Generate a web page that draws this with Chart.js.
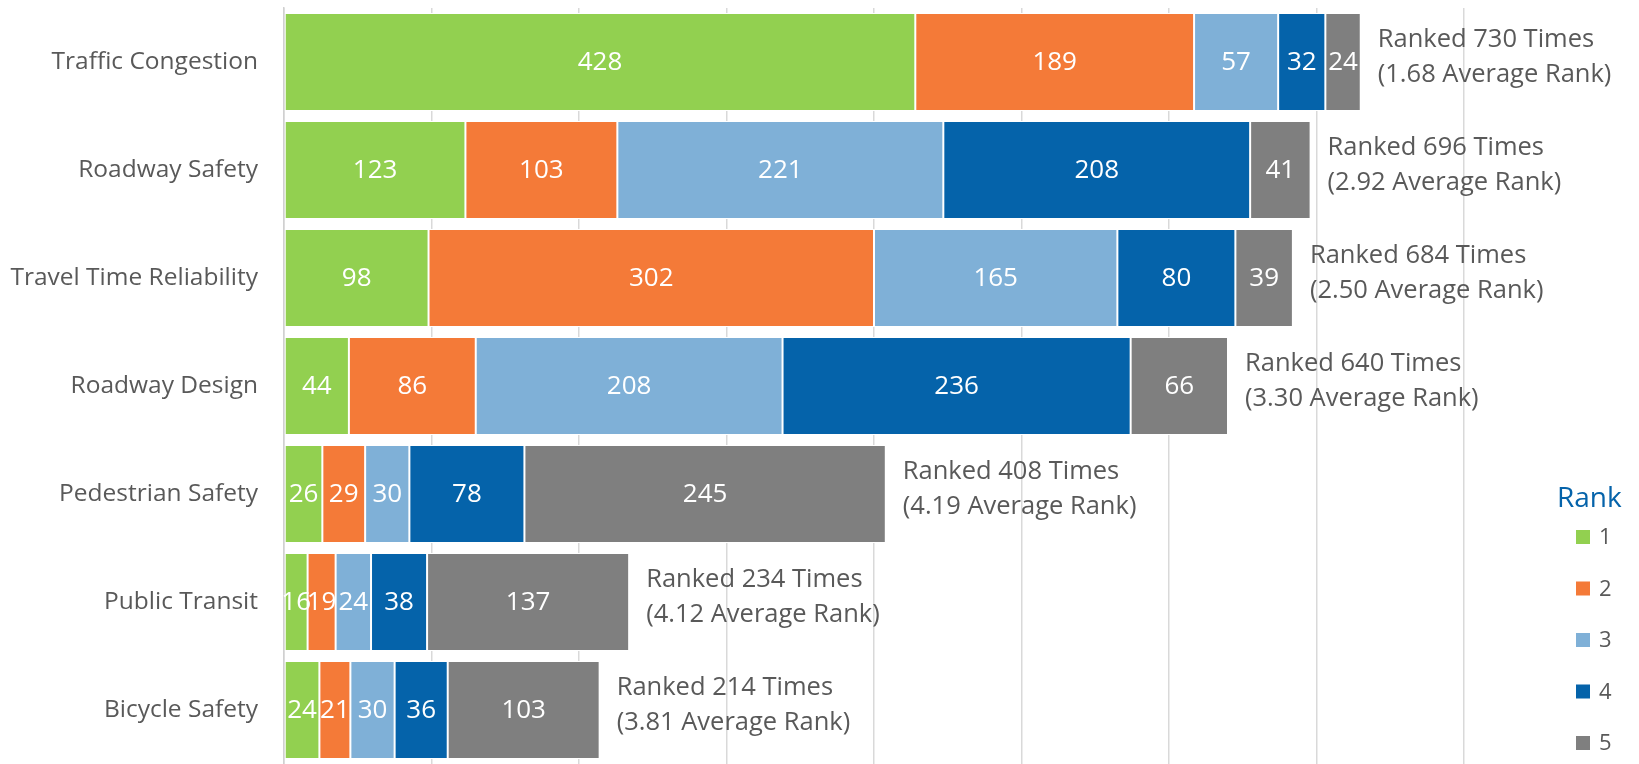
<!DOCTYPE html>
<html>
<head>
<meta charset="utf-8">
<script src="https://cdn.jsdelivr.net/npm/chart.js@4"></script>
<style>
  html, body { margin: 0; padding: 0; background: #fff; }
  #wrap { width: 1639px; height: 764px; }
</style>
</head>
<body>
<div id="wrap"><canvas id="rankChart"></canvas></div>
<script>
const categories = [
  "Traffic Congestion",
  "Roadway Safety",
  "Travel Time Reliability",
  "Roadway Design",
  "Pedestrian Safety",
  "Public Transit",
  "Bicycle Safety",
];
const rankLabels = ["1", "2", "3", "4", "5"];
const rank1 = [428, 123, 98, 44, 26, 16, 24];
const rank2 = [189, 103, 302, 86, 29, 19, 21];
const rank3 = [57, 221, 165, 208, 30, 24, 30];
const rank4 = [32, 208, 80, 236, 78, 38, 36];
const rank5 = [24, 41, 39, 66, 245, 137, 103];
const xTicks = [0, 100, 200, 300, 400, 500, 600, 700, 800];

const colors = ["#92D050", "#F47A38", "#7FB0D7", "#0563AA", "#7F7F7F"];
const grey = "#595959";
const font = "'Open Sans', 'Noto Sans', sans-serif";

const series = [rank1, rank2, rank3, rank4, rank5];

// white value labels inside each segment, and totals after each bar
const labelsPlugin = {
  id: "labels",
  afterDatasetsDraw(chart) {
    const ctx = chart.ctx;
    ctx.save();
    ctx.textAlign = "center";
    ctx.textBaseline = "middle";
    ctx.fillStyle = "#fff";
    ctx.font = "26px " + font;
    chart.data.datasets.forEach((ds, di) => {
      chart.getDatasetMeta(di).data.forEach((bar, i) => {
        ctx.fillText(String(ds.data[i]), (bar.x + bar.base) / 2, bar.y + 1);
      });
    });

    const x = chart.scales.x;
    const lastMeta = chart.getDatasetMeta(series.length - 1);
    ctx.textAlign = "left";
    ctx.fillStyle = grey;
    ctx.font = "25.5px " + font;
    categories.forEach((c, i) => {
      let total = 0, weighted = 0;
      series.forEach((s, r) => { total += s[i]; weighted += s[i] * (r + 1); });
      const px = x.getPixelForValue(total) + 17;
      const py = lastMeta.data[i].y;
      ctx.fillText("Ranked " + total + " Times", px, py - 22);
      ctx.fillText("(" + (weighted / total).toFixed(2) + " Average Rank)", px, py + 13);
    });
    ctx.restore();
  },
  afterDraw(chart) {
    // legend on the right
    const ctx = chart.ctx;
    ctx.save();
    ctx.textBaseline = "middle";
    ctx.textAlign = "left";
    ctx.fillStyle = "#0563AA";
    ctx.font = "28px " + font;
    ctx.fillText("Rank", 1557, 499);
    ctx.font = "22px " + font;
    rankLabels.forEach((r, i) => {
      const y = 537 + i * 51.5;
      ctx.fillStyle = colors[i];
      ctx.fillRect(1576, y - 7, 14, 14);
      ctx.fillStyle = grey;
      ctx.fillText(r, 1599, y + 1);
    });
    ctx.restore();
  },
};

const data = {
  labels: categories,
  datasets: series.map((s, i) => ({
    label: rankLabels[i],
    data: s,
    backgroundColor: colors[i],
    borderColor: "#fff",
    borderWidth: 1,
    borderSkipped: false,
    barPercentage: 1,
    categoryPercentage: 0.907,
  })),
};

const config = {
  type: "bar",
  data: data,
  options: {
    indexAxis: "y",
    responsive: true,
    maintainAspectRatio: false,
    animation: false,
    layout: { padding: { top: 8, right: 175, bottom: 0, left: 0 } },
    plugins: {
      legend: { display: false },
      tooltip: { enabled: false },
    },
    scales: {
      x: {
        stacked: true,
        min: 0,
        max: 800,
        afterBuildTicks: (scale) => { scale.ticks = xTicks.map((v) => ({ value: v })); },
        grid: { color: "#D9D9D9", lineWidth: 1.5, drawTicks: false },
        border: { display: false },
        ticks: { display: false },
      },
      y: {
        stacked: true,
        grid: { display: false },
        border: { display: true, color: "#D0D0D0", width: 1.5 },
        afterFit: (scale) => {
          scale.width = 284;
          scale.paddingTop = 0;
          scale.paddingBottom = 0;
        },
        ticks: {
          color: grey,
          padding: 18,
          font: { family: font, size: 24.5 },
        },
      },
    },
  },
  plugins: [labelsPlugin],
};

new Chart(document.getElementById("rankChart"), config);
</script>
</body>
</html>
